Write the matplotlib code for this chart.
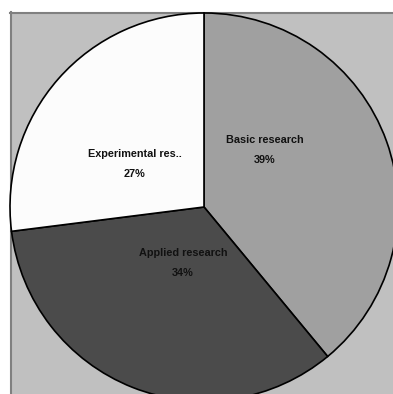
"""Research spending split by type, drawn as a grey pie."""

import matplotlib.pyplot as plt
from matplotlib.patches import Rectangle

categories = ["Basic research", "Applied research", "Experimental res.."]
shares = [39, 34, 27]
slice_colors = ["#a0a0a0", "#4b4b4b", "#fcfcfc"]

# label anchor points (pixels from the top-left corner)
label_xy = [(265, 140), (183, 253), (135, 154)]

W, H = 393, 394

fig = plt.figure(figsize=(W / 100, H / 100), dpi=100)
ax = fig.add_axes([0, 0, 1, 1])

ax.pie(
    shares,
    colors=slice_colors,
    startangle=90,
    counterclock=False,
    center=(204, H - 207),
    radius=194,
    wedgeprops={"edgecolor": "black", "linewidth": 1.2},
    frame=True,
)

# grey plot panel behind the pie
ax.add_patch(Rectangle((10, 0), W - 10, H - 12, facecolor="#c0c0c0",
                       edgecolor="none", zorder=0))
ax.plot([11, 11], [0, H - 12], color="#808080", lw=1.5, zorder=0.5)
ax.plot([10, W], [H - 13, H - 13], color="#808080", lw=1.5, zorder=0.5)

for name, share, (x, y) in zip(categories, shares, label_xy):
    ax.text(x, H - y, name, ha="center", va="center", fontsize=7.8,
            fontweight="bold", family="Liberation Sans", color="#111111")
    ax.text(x, H - y - 20, f"{share}%", ha="center", va="center", fontsize=7.8,
            fontweight="bold", family="Liberation Sans", color="#111111")

ax.set_xlim(0, W)
ax.set_ylim(0, H)
ax.set_aspect("auto")
ax.axis("off")

fig.savefig("out.png", dpi=100, facecolor="white")
